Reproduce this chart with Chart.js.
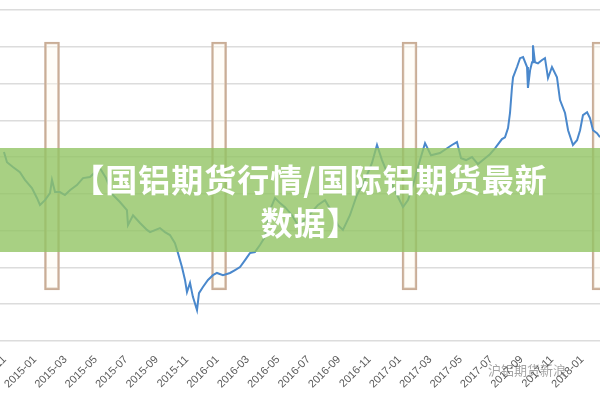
<!DOCTYPE html>
<html>
<head>
<meta charset="utf-8">
<script src="https://cdn.jsdelivr.net/npm/chart.js@4"></script>
<style>
    body { margin: 0; background: #fff; }
    .wrap { position: relative; width: 600px; height: 400px; overflow: hidden; }
    .banner {
        position: absolute; left: 0; top: 148px; width: 600px; height: 104px;
        background: rgba(146, 196, 100, 0.8);
        display: flex; align-items: center; justify-content: center;
        box-sizing: border-box; padding-left: 20px;
        color: #fff; font-family: "Noto Sans CJK SC", sans-serif; font-weight: bold;
        font-size: 32px; line-height: 43px; text-align: center; letter-spacing: 1px;
    }
    .mark {
        position: absolute; left: 488px; top: 360px;
        font-family: "Noto Sans CJK SC", sans-serif; font-size: 13px;
        color: rgba(90, 90, 90, 0.55);
    }
</style>
</head>
<body>
<div class="wrap">
    <canvas id="chart" width="600" height="400"></canvas>
    <div class="banner"><div>【国铝期货行情/国际铝期货最新<br>数据】</div></div>
    <div class="mark">沪铝期货新浪</div>
</div>
<script>
// maanden sinds 2015-01 (0 = 2015-01)
const months = [
    -2.04, -1.84, -1.45, -0.99, -0.66, -0.20, 0.13, 0.33, 0.66, 0.99,
    1.12, 1.32, 1.64, 1.97, 2.30, 2.76, 3.16, 3.62, 3.95, 4.28,
    4.67, 5.13, 5.59, 6.05, 6.12, 6.45, 6.91, 7.37, 7.57, 8.22,
    8.55, 8.88, 9.21, 9.41, 9.67, 9.87, 10.00, 10.20, 10.39, 10.66,
    10.79, 11.05, 11.38, 11.71, 11.97, 12.37, 12.83, 13.16, 13.49, 13.82,
    14.14, 14.47, 14.80, 15.13, 15.46, 15.79, 16.12, 16.45, 16.91, 17.30,
    17.76, 18.22, 18.62, 19.08, 19.54, 19.93, 20.26, 20.72, 21.18, 21.71,
    22.17, 22.50, 22.83, 23.36, 23.82, 24.21, 24.54, 24.87, 25.33, 25.66,
    26.05, 26.64, 27.11, 27.43, 27.76, 28.03, 28.36, 28.75, 29.14, 29.61,
    29.93, 30.26, 30.72, 30.92, 31.12, 31.25, 31.38, 31.45, 31.71, 31.91,
    32.11, 32.37, 32.43, 32.57, 32.70, 32.76, 32.89, 33.09, 33.36, 33.55,
    33.75, 34.01, 34.34, 34.54, 34.87, 35.07, 35.39, 35.66, 35.86, 36.05,
    36.32, 36.51, 36.71, 36.97, 37.17
];
const prices = [
    14140, 13860, 13730, 13590, 13380, 13160, 12890, 12700, 12830, 13020,
    13380, 13050, 13050, 12970, 13100, 13240, 13430, 13460, 13590, 13700,
    13430, 12970, 12780, 12560, 12150, 12420, 12210, 12020, 11960, 12070,
    11960, 11880, 11660, 11390, 11010, 10660, 10330, 10580, 10200, 9840,
    10300, 10470, 10660, 10790, 10850, 10790, 10850, 10930, 11010, 11200,
    11390, 11420, 11610, 11830, 12560, 12890, 12750, 12640, 12420, 12150,
    12290, 12510, 12700, 12830, 12510, 12150, 12020, 12420, 12970, 13380,
    13840, 14330, 13920, 13380, 12970, 12640, 12830, 13240, 13920, 14380,
    14050, 14110, 14240, 14330, 14410, 13970, 13920, 14000, 13810, 13970,
    14080, 14240, 14490, 14540, 14790, 15200, 15900, 16170, 16450, 16690,
    16720, 16450, 15880, 16360, 16580, 17040, 16580, 16550, 16640, 16690,
    16150, 16450, 16170, 15550, 15200, 14730, 14330, 14460, 14730, 15140,
    15220, 15060, 14730, 14650, 14540
];

// omkaderde perioden
const boxMonths = [1.12, 12.11, 24.64, 37.14];
const boxLow = [10390, 10390, 10390, 10390];
const boxHigh = [17130, 17130, 17130, 17130];

const tickMonths = [-2, 0, 2, 4, 6, 8, 10, 12, 14, 16, 18, 20, 22, 24, 26, 28, 30, 32, 34, 36];
const tickLabels = [
    '2014-11', '2015-01', '2015-03', '2015-05', '2015-07', '2015-09', '2015-11',
    '2016-01', '2016-03', '2016-05', '2016-07', '2016-09', '2016-11',
    '2017-01', '2017-03', '2017-05', '2017-07', '2017-09', '2017-11', '2018-01'
];

const linePoints = months.map((m, i) => ({ x: m, y: prices[i] }));
const boxes = boxMonths.map((m, i) => ({ x: m, y: [boxLow[i], boxHigh[i]] }));

new Chart(document.getElementById('chart'), {
    type: 'line',
    data: {
        datasets: [{
            type: 'line',
            data: linePoints,
            borderColor: '#4a88cc',
            borderWidth: 2,
            pointRadius: 0,
            tension: 0,
            order: 0
        }, {
            type: 'bar',
            data: boxes,
            backgroundColor: 'rgba(255, 250, 238, 0.4)',
            borderColor: '#c9ad96',
            borderWidth: 2,
            borderSkipped: false,
            barThickness: 15,
            grouped: false,
            order: 1
        }]
    },
    options: {
        responsive: false,
        animation: false,
        layout: { padding: { top: 10, left: 0, right: 0, bottom: 0 } },
        plugins: { legend: { display: false }, tooltip: { enabled: false } },
        scales: {
            x: {
                type: 'linear',
                min: -2.3,
                max: 37.17,
                offset: false,
                grid: { display: false, offset: false },
                border: { display: false },
                afterBuildTicks: scale => {
                    scale.ticks = tickMonths.map(v => ({ value: v }));
                },
                afterFit: scale => {
                    scale.height = 59;
                    scale.paddingLeft = 0;
                    scale.paddingRight = 0;
                },
                ticks: {
                    autoSkip: false,
                    minRotation: 45,
                    maxRotation: 45,
                    padding: 4,
                    color: '#5a5a5a',
                    font: { family: 'Liberation Sans', size: 11 },
                    callback: (value) => {
                        const i = tickMonths.indexOf(value);
                        return i >= 0 ? tickLabels[i] : '';
                    }
                }
            },
            y: {
                min: 9000,
                max: 18000,
                ticks: { display: false, stepSize: 1000 },
                grid: { color: '#dcdcdc', lineWidth: 1.5, drawTicks: false },
                border: { display: false },
                afterFit: scale => { scale.width = 0; }
            }
        }
    }
});
</script>
</body>
</html>
